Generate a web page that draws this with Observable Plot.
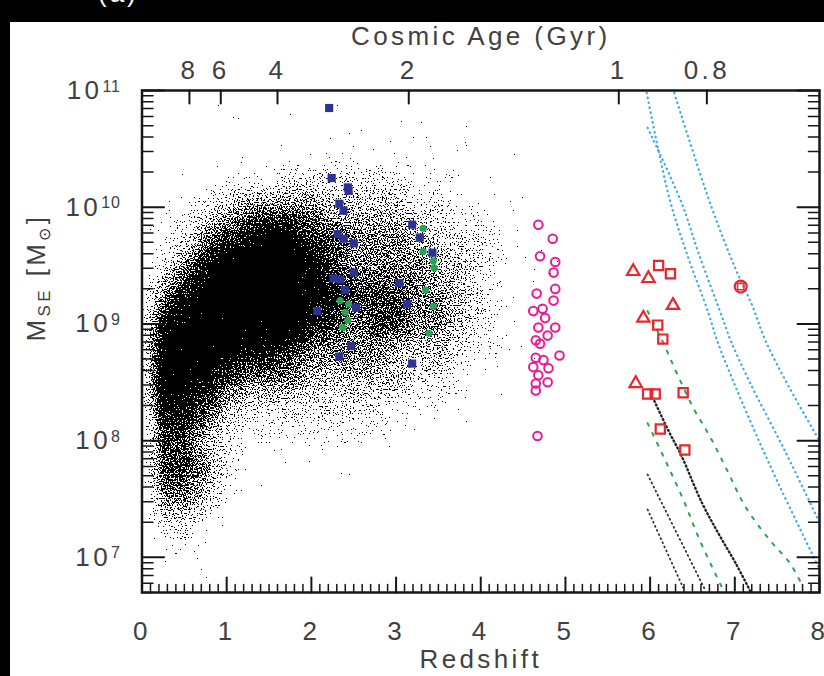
<!DOCTYPE html>
<html><head><meta charset="utf-8">
<script src="https://cdn.jsdelivr.net/npm/d3@7"></script>
<script src="https://cdn.jsdelivr.net/npm/@observablehq/plot@0.6"></script>
<style>
html,body{margin:0;padding:0;background:#000;width:824px;height:676px;overflow:hidden;position:relative;}
#panel{position:absolute;left:10px;top:22px;width:814px;height:654px;background:#fff;}
#tag{position:absolute;left:98px;top:-22px;color:#fff;font:26px "Liberation Sans",sans-serif;letter-spacing:3px;}
</style></head><body>
<div id="tag">(a)</div>
<div id="panel"></div>
<script>
// ---------------- axis ticks / labels ----------------
const zTicks = [0, 1, 2, 3, 4, 5, 6, 7, 8];
const ageLabels = ["8", "6", "4", "2", "1", "0.8"];
const ageRedshift = [0.56, 0.93, 1.60, 3.15, 5.63, 6.67];
const massDecades = [1e7, 1e8, 1e9, 1e10, 1e11];
const decadeExponents = ["7", "8", "9", "10", "11"];

// ---------------- simulated galaxy cloud (density, 0-9) ----------------
const cloudZ = [0, 0.25, 0.5, 0.75, 1, 1.25, 1.5, 1.75, 2, 2.25, 2.5, 2.75, 3, 3.25, 3.5, 3.75, 4, 4.25, 4.5, 4.75, 5, 5.25, 5.5];
const cloudLogM = [11, 10.75, 10.5, 10.25, 10, 9.75, 9.5, 9.25, 9, 8.75, 8.5, 8.25, 8, 7.75, 7.5, 7.25, 7, 6.75];
const cloudDensity = [
  "00000000000000000000000",
  "00001111111111000000000",
  "00001111111111110000000",
  "00112223333332221111000",
  "01234555544443322110000",
  "12356788665554433211000",
  "13579999865555443211000",
  "25789999876665543211000",
  "27899999765665543210000",
  "28998776555544432210000",
  "28876555444443321100000",
  "27764333333322211000000",
  "16643222222211000000000",
  "16653111111000000000000",
  "15542100000000000000000",
  "03321000000000000000000",
  "01210000000000000000000",
  "00000000000000000000000"
];

// ---------------- observed samples (z, log10 M) ----------------
const blueZ = [2.21, 2.24, 2.43, 2.44, 2.33, 2.38, 2.31, 2.38, 2.50, 2.26, 2.34, 2.50, 2.40, 2.53, 2.07, 2.47, 2.33,
               3.19, 3.28, 3.43, 3.04, 3.13, 3.19];
const blueLogM = [10.85, 10.25, 10.17, 10.14, 10.03, 9.97, 9.77, 9.73, 9.69, 9.39, 9.38, 9.44, 9.29, 9.14, 9.11, 8.81, 8.72,
                  9.85, 9.74, 9.61, 9.35, 9.17, 8.66];
const greenZ = [2.34, 2.44, 2.40, 2.43, 2.37, 3.32, 3.32, 3.44, 3.45, 3.35, 3.44, 3.39];
const greenLogM = [9.20, 9.17, 9.10, 9.03, 8.97, 9.82, 9.62, 9.54, 9.48, 9.29, 9.15, 8.92];
const magentaZ = [4.68, 4.85, 4.70, 4.88, 4.86, 4.88, 4.66, 4.86, 4.73, 4.62, 4.76, 4.88, 4.68, 4.79, 4.65, 4.70,
                  4.93, 4.65, 4.74, 4.62, 4.80, 4.68, 4.79, 4.65, 4.65, 4.67];
const magentaLogM = [9.85, 9.73, 9.58, 9.53, 9.44, 9.30, 9.26, 9.20, 9.13, 9.11, 9.05, 8.97, 8.97, 8.90, 8.86, 8.83,
                     8.73, 8.71, 8.69, 8.63, 8.62, 8.56, 8.50, 8.49, 8.43, 8.04];
const redTriZ = [5.80, 5.98, 6.27, 5.92, 5.83];
const redTriLogM = [9.45, 9.39, 9.16, 9.05, 8.49];
const redSqZ = [6.10, 6.24, 6.09, 6.15, 5.97, 6.06, 6.39, 6.12, 6.41];
const redSqLogM = [9.50, 9.43, 8.99, 8.87, 8.40, 8.40, 8.41, 8.10, 7.92];
const redCircZ = [7.07];
const redCircLogM = [9.32];

// ---------------- limit curves ----------------
const cyan1Z = [5.96, 6.23, 6.43, 6.69, 6.79, 7.01, 7.29, 7.49, 7.76, 8.0];
const cyan1LogM = [10.98, 10.07, 9.61, 9.09, 8.86, 8.46, 7.99, 7.67, 7.26, 6.90];
const cyan2Z = [5.97, 6.37, 6.57, 6.85, 6.95, 7.17, 7.60, 8.0];
const cyan2LogM = [10.68, 10.04, 9.61, 9.06, 8.86, 8.51, 7.90, 7.30];
const cyan3Z = [6.25, 6.72, 7.01, 7.21, 7.36, 7.64, 8.0];
const cyan3LogM = [11.06, 10.01, 9.47, 9.15, 8.86, 8.46, 8.0];
const green1Z = [5.97, 6.16, 6.32, 6.51, 6.71, 6.92, 7.12, 7.41, 7.65, 7.81];
const green1LogM = [9.11, 8.83, 8.57, 8.28, 8.03, 7.73, 7.44, 7.15, 6.95, 6.74];
const green2Z = [5.97, 6.18, 6.40, 6.59, 6.85];
const green2LogM = [8.15, 7.83, 7.48, 7.14, 6.74];
const black1Z = [6.05, 6.22, 6.37, 6.61, 6.81, 7.01, 7.19];
const black1LogM = [8.34, 8.08, 7.87, 7.47, 7.20, 6.95, 6.70];
const black2Z = [5.97, 6.65];
const black2LogM = [7.71, 6.72];
const black3Z = [5.97, 6.39];
const black3LogM = [7.41, 6.74];

// ---------------- build tables ----------------
const pts = (zs, ms) => zs.map((z, i) => ({z, m: 10 ** ms[i]}));
const grid = cloudDensity.map(row => Array.from(row, Number));
const dz = cloudZ[1] - cloudZ[0], dl = cloudLogM[0] - cloudLogM[1];
function cloudAt(z, m) { // bilinear look-up in the density grid
  const lm = Math.log10(m);
  let c = (z - cloudZ[0]) / dz, r = (cloudLogM[0] - lm) / dl;
  c = Math.max(0, Math.min(cloudZ.length - 1.0001, c));
  r = Math.max(0, Math.min(cloudLogM.length - 1.0001, r));
  const c0 = Math.floor(c), r0 = Math.floor(r), fc = c - c0, fr = r - r0;
  const a = grid[r0][c0], b = grid[r0][c0 + 1], d = grid[r0 + 1][c0], e = grid[r0 + 1][c0 + 1];
  return (a * (1 - fc) + b * fc) * (1 - fr) + (d * (1 - fc) + e * fc) * fr;
}

const ageMap = new Map(ageRedshift.map((z, i) => [z, ageLabels[i]]));
const expMap = new Map(massDecades.map((v, i) => [v, decadeExponents[i]]));
const xMinor = d3.range(1, 80).filter(i => i % 10 !== 0).map(i => i / 10);
const yMinor = [];
for (let e = 6; e <= 10; e++) for (let k = 2; k <= 9; k++) { const v = k * 10 ** e; if (v >= 5e6 && v <= 1e11) yMinor.push(v); }

const INK = "#161616";
const tickShape = {draw(context, l) { context.moveTo(0, 0); context.lineTo(0, -l); }};
const ticks = (data, side, len, w) => Plot.vector(data, {
  ...(side === "bottom" || side === "top" ? {x: d => d} : {y: d => d}),
  frameAnchor: side, length: len, anchor: "start", shape: tickShape,
  rotate: {bottom: 0, top: 180, left: 90, right: -90}[side],
  stroke: INK, strokeWidth: w
});
const line = (zs, ms, stroke, dash, w) => Plot.line(pts(zs, ms), {x: "z", y: "m", stroke, strokeWidth: w, strokeDasharray: dash, strokeLinecap: "round", curve: "catmull-rom", clip: true});

const chart = Plot.plot({
  width: 814, height: 654,
  marginLeft: 131.5, marginRight: 5, marginTop: 68, marginBottom: 84,
  style: {fontFamily: "'Liberation Sans', Arial, sans-serif", fontSize: "26px", color: "#404040", background: "transparent", letterSpacing: "3.4px"},
  x: {domain: [0, 8], axis: null},
  y: {type: "log", domain: [5e6, 1e11], axis: null},
  color: {type: "pow", exponent: 1.2, domain: [0, 9], range: ["#ffffff", "#000000"]},
  marks: [
    Plot.raster({fill: (z, m) => cloudAt(z, m), x1: 0, x2: 8, y1: 5e6, y2: 1e11, className: "cloud"}),
    line(cyan1Z, cyan1LogM, "#3aa8ec", "0.5,4.5", 2.2),
    line(cyan2Z, cyan2LogM, "#3aa8ec", "0.5,4.5", 2.2),
    line(cyan3Z, cyan3LogM, "#3aa8ec", "0.5,4.5", 2.2),
    line(green1Z, green1LogM, "#2ea44f", "3,8", 2),
    line(green2Z, green2LogM, "#2ea44f", "3,8", 2),
    line(black1Z, black1LogM, "#222", "1,3", 2.4),
    line(black2Z, black2LogM, "#333", "1,3.5", 1.8),
    line(black3Z, black3LogM, "#333", "1,3.5", 1.8),
    Plot.dot(pts(blueZ, blueLogM), {x: "z", y: "m", symbol: "square", r: 4.6, fill: "#2d3393"}),
    Plot.dot(pts(greenZ, greenLogM), {x: "z", y: "m", symbol: "circle", r: 3.6, fill: "#25a550"}),
    Plot.dot(pts(magentaZ, magentaLogM), {x: "z", y: "m", symbol: "circle", r: 4.3, stroke: "#ea1a95", strokeWidth: 2, fill: "none"}),
    Plot.dot(pts(redTriZ, redTriLogM), {x: "z", y: "m", symbol: "triangle", r: 4.6, stroke: "#e8262c", strokeWidth: 2.2, fill: "none"}),
    Plot.dot(pts(redSqZ, redSqLogM), {x: "z", y: "m", symbol: "square", r: 5.2, stroke: "#e8262c", strokeWidth: 2.2, fill: "none"}),
    Plot.dot(pts(redCircZ, redCircLogM), {x: "z", y: "m", symbol: "circle", r: 6, stroke: "#e8262c", strokeWidth: 2.2, fill: "none"}),
    Plot.dot(pts(redCircZ, redCircLogM), {x: "z", y: "m", symbol: "square", r: 3.6, stroke: "#e8262c", strokeWidth: 1.6, fill: "none"}),
    Plot.frame({stroke: INK, strokeWidth: 2.5}),
    // inward ticks
    ticks(zTicks, "bottom", 15, 2),
    ticks(xMinor, "bottom", 8, 1.5),
    ticks(ageRedshift, "top", 13, 2),
    ticks(massDecades, "left", 22, 2),
    ticks(yMinor, "left", 11, 1.5),
    ticks(massDecades, "right", 22, 2),
    ticks(yMinor, "right", 11, 1.5),
    // tick labels
    Plot.axisX(zTicks, {anchor: "bottom", tickSize: 0, tickPadding: 29, stroke: "none", label: null}),
    Plot.axisX(ageRedshift, {anchor: "top", tickSize: 0, tickPadding: 12, stroke: "none", label: null, tickFormat: d => ageMap.get(d)}),
    Plot.text(massDecades, {y: d => d, frameAnchor: "left", text: d => "10^" + expMap.get(d), dx: -21, textAnchor: "end", className: "ylab"}),
    // titles
    Plot.text(["Cosmic Age (Gyr)"], {frameAnchor: "top", dy: -54, lineAnchor: "middle"}),
    Plot.text(["Redshift"], {frameAnchor: "bottom", dy: 67, lineAnchor: "middle"}),
    Plot.text(["MSE [M⊙]"], {frameAnchor: "left", dx: -105, rotate: -90, lineAnchor: "middle", className: "ytitle"})
  ]
});

const NS = "http://www.w3.org/2000/svg";
// speckle texture for the point cloud (pure styling of the raster):
// a pixel turns black when the local darkness exceeds a noise threshold
const defs = document.createElementNS(NS, "defs");
defs.innerHTML = `<filter id="speckle" x="0" y="0" width="1" height="1" color-interpolation-filters="sRGB">
  <feTurbulence type="fractalNoise" baseFrequency="0.75" numOctaves="1" seed="7" result="n"/>
  <feColorMatrix in="n" type="matrix" values="1.6 0 0 0 -0.3  1.6 0 0 0 -0.3  1.6 0 0 0 -0.3  0 0 0 0 1" result="u"/>
  <feComposite in="SourceGraphic" in2="u" operator="arithmetic" k1="0" k2="0.5" k3="0.5" k4="0" result="s"/>
  <feComponentTransfer in="s" result="t"><feFuncR type="discrete" tableValues="0 1"/><feFuncG type="discrete" tableValues="0 1"/><feFuncB type="discrete" tableValues="0 1"/><feFuncA type="discrete" tableValues="1 1"/></feComponentTransfer>
  <feGaussianBlur in="t" stdDeviation="0.35"/>
</filter>`;
chart.insertBefore(defs, chart.firstChild);
chart.querySelectorAll(".cloud").forEach(g => g.setAttribute("filter", "url(#speckle)"));

// superscript exponents on y tick labels
chart.querySelectorAll("g.ylab text").forEach(t => {
  const [b, e] = t.textContent.split("^");
  t.textContent = "";
  const s1 = document.createElementNS(NS, "tspan"); s1.textContent = b; t.appendChild(s1);
  const s2 = document.createElementNS(NS, "tspan"); s2.textContent = e;
  s2.setAttribute("dy", "-0.45em"); s2.setAttribute("font-size", "16px"); s2.setAttribute("letter-spacing", "1px"); t.appendChild(s2);
});
// subscripts in y title
chart.querySelectorAll("g.ytitle text").forEach(t => {
  t.textContent = "";
  const parts = [["M", null, null], ["SE", "0.3em", "17px"], [" [M", "-0.2em", null], ["⊙", "0.3em", "16px"], ["]", "-0.2em", null]];
  parts.forEach(([s, dy, fs]) => {
    const sp = document.createElementNS(NS, "tspan"); sp.textContent = s;
    if (dy) sp.setAttribute("dy", dy);
    if (fs) sp.setAttribute("font-size", fs);
    t.appendChild(sp);
  });
});
document.getElementById("panel").appendChild(chart);
</script>
</body></html>
